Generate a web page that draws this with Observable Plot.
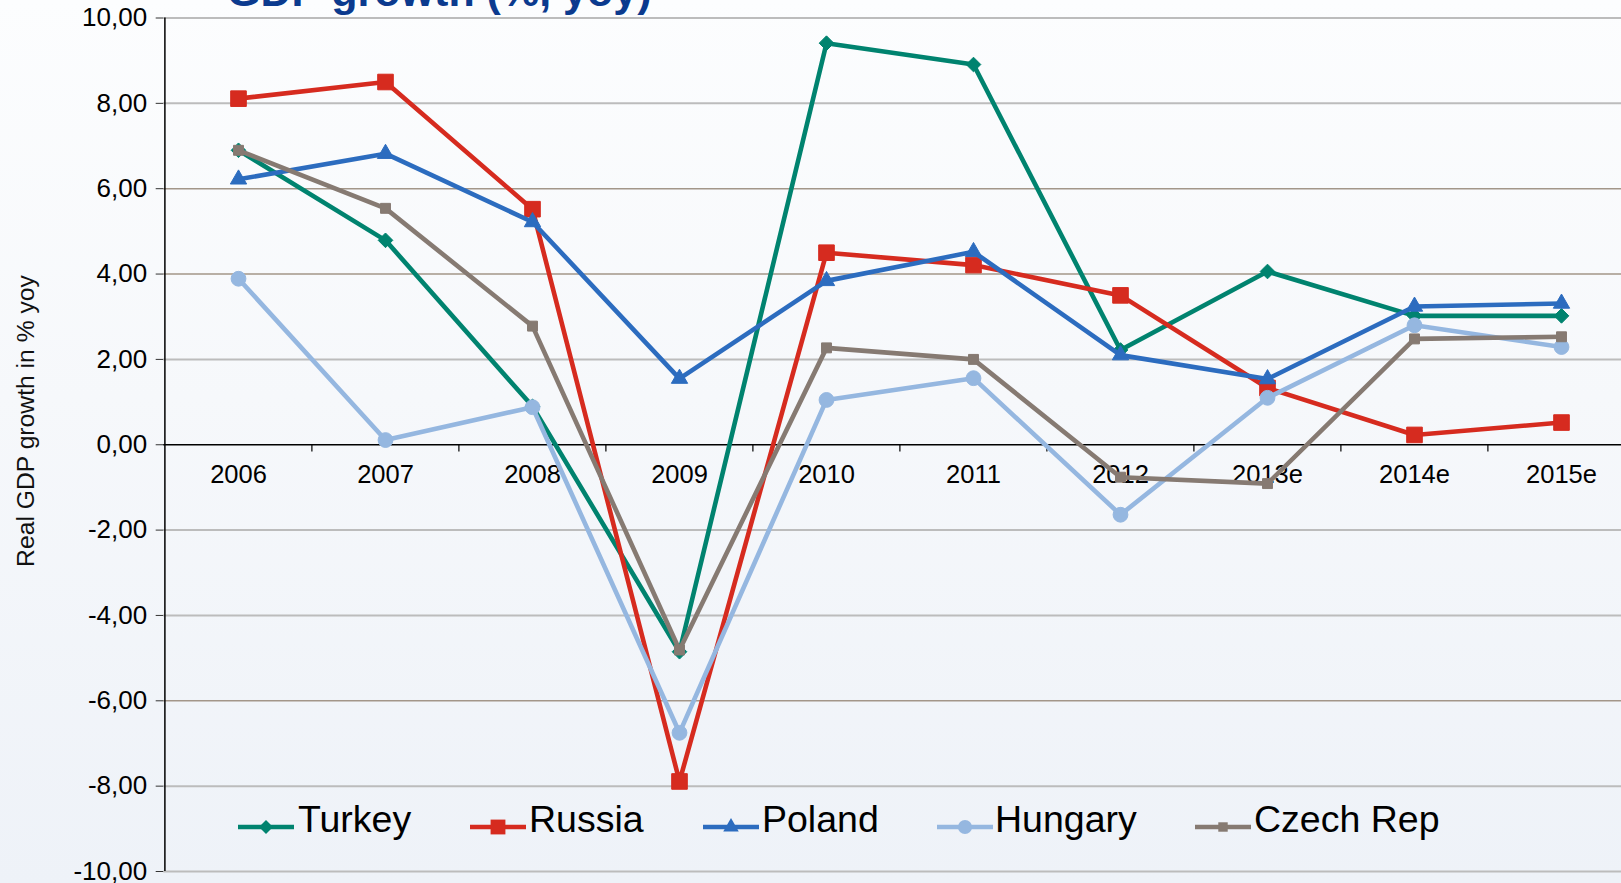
<!DOCTYPE html>
<html>
<head>
<meta charset="utf-8">
<script src="https://cdn.jsdelivr.net/npm/d3@7"></script>
<script src="https://cdn.jsdelivr.net/npm/@observablehq/plot@0.6"></script>
<style>
html,body{margin:0;padding:0;width:1621px;height:883px;overflow:hidden;}
body{background:linear-gradient(to bottom,#fcfdfe 0%,#f6f8fb 45%,#eef2f8 100%);font-family:"Liberation Sans",Arial,sans-serif;}
#wrap{position:relative;width:1621px;height:883px;}
#wrap svg.chart{position:absolute;left:0;top:0;}
#title{position:absolute;left:227px;top:-30px;font-size:43px;font-weight:bold;color:#0b3a8e;line-height:1;white-space:nowrap;}
#ylabel{position:absolute;left:26px;top:421px;transform:translate(-50%,-50%) rotate(-90deg);font-size:24.7px;line-height:1;white-space:nowrap;color:#111;}
#legend{position:absolute;left:0;top:800px;width:1621px;height:40px;font-size:37.5px;line-height:1;color:#000;}
.sw{position:absolute;top:8px;}
.lt{position:absolute;top:1px;white-space:nowrap;}
</style>
</head>
<body>
<div id="wrap">
  <div id="title">GDP growth (%, yoy)</div>
  <div id="ylabel">Real GDP growth in % yoy</div>
  <div id="legend"></div>
</div>
<script>
// ---- data ----
const years = ["2006","2007","2008","2009","2010","2011","2012","2013e","2014e","2015e"];
const turkey  = [6.90, 4.79, 0.90, -4.85, 9.41, 8.91, 2.22, 4.06, 3.02, 3.02];
const russia  = [8.11, 8.50, 5.52, -7.89, 4.50, 4.21, 3.50, 1.33, 0.23, 0.52];
const poland  = [6.22, 6.82, 5.22, 1.55, 3.84, 4.52, 2.10, 1.54, 3.24, 3.31];
const hungary = [3.89, 0.11, 0.88, -6.75, 1.05, 1.56, -1.64, 1.10, 2.80, 2.29];
const czech   = [6.90, 5.54, 2.78, -4.81, 2.27, 2.00, -0.76, -0.91, 2.48, 2.53];
const countries = ["Turkey","Russia","Poland","Hungary","Czech Rep"];
const yTicks = [-10,-8,-6,-4,-2,0,2,4,6,8,10];

// ---- styles ----
const seriesValues = [turkey, russia, poland, hungary, czech];
const colors  = ["#00836f","#d62b1f","#2c6cbf","#95b7e0","#867a72"];
const symbols = ["diamond2","square","triangle2","circle","square"];
const radii   = [6.6, 8.8, 7.8, 7.4, 5.6];
const grayGrid  = [10,8,2,-2,-4,-8,-10];
const brownGrid = [6,4,-6];
const legendSwatchX = [238, 470, 703, 937, 1195];
const legendTextX   = [298, 529, 762, 995, 1254];

const table = countries.map((c, k) => years.map((yr, i) => ({country: c, year: yr, value: seriesValues[k][i]})));

const x0 = 236.8, x1 = 1561.7;
const step = (x1 - x0) / (years.length - 1);
const fmt = d => (d < 0 ? "-" : "") + Math.abs(d).toFixed(2).replace(".", ",");

const seriesMarks = [];
table.forEach((rows, k) => {
  seriesMarks.push(Plot.line(rows, {x: "year", y: "value", stroke: colors[k], strokeWidth: 4.6, strokeLinejoin: "miter", strokeLinecap: "butt"}));
  seriesMarks.push(Plot.dot(rows, {x: "year", y: "value", fill: colors[k], stroke: colors[k], strokeWidth: 1, symbol: () => symbols[k], r: radii[k]}));
});

const chart = Plot.plot({
  width: 1621,
  height: 883,
  marginLeft: x0 - step / 2,
  marginRight: 0,
  marginTop: 17.5,
  marginBottom: 12,
  style: {background: "transparent", fontFamily: "'Liberation Sans', Arial, sans-serif", fontSize: "26px", color: "#000", overflow: "visible"},
  x: {type: "point", domain: years, range: [x0, x1], padding: 0, axis: null},
  y: {domain: [-10, 10]},
  symbol: {type: "identity"},
  marks: [
    Plot.ruleY(grayGrid, {stroke: "#bcbcbc", strokeWidth: 2}),
    Plot.ruleY(brownGrid, {stroke: "#a39689", strokeWidth: 1.6}),
    Plot.axisY({ticks: yTicks, tickSize: 7.5, tickPadding: 9, tickFormat: fmt, fontSize: 26, stroke: "#333", fill: "#000", label: null}),
    Plot.ruleX([years[0]], {x: d => d, dx: -step / 2, stroke: "#000", strokeWidth: 1.5}),
    Plot.ruleY([0], {stroke: "#000", strokeWidth: 1.5}),
    Plot.ruleX(years.slice(1), {x: d => d, dx: -step / 2, y1: 0, y2: -0.17, stroke: "#000", strokeWidth: 1.2}),
    Plot.text(years, {x: d => d, y: 0, dy: 30, fontSize: 25.5, fill: "#000"}),
    ...seriesMarks
  ]
});
chart.classList.add("chart");
const wrap = document.getElementById("wrap");
wrap.insertBefore(chart, wrap.firstChild);

// ---- legend ----
const legend = document.getElementById("legend");
const symbolPaths = {diamond2: d3.symbolDiamond2, square: d3.symbolSquare, triangle2: d3.symbolTriangle2, circle: d3.symbolCircle};
countries.forEach((c, k) => {
  const size = Math.PI * Math.pow(radii[k] * 0.95, 2);
  const path = d3.symbol(symbolPaths[symbols[k]], size)();
  const sw = document.createElement("div");
  sw.className = "sw";
  sw.style.left = legendSwatchX[k] + "px";
  sw.innerHTML = `<svg width="56" height="24" viewBox="0 0 56 24"><line x1="0" y1="12" x2="56" y2="12" stroke="${colors[k]}" stroke-width="4.6"/><path d="${path}" transform="translate(28,12)" fill="${colors[k]}"/></svg>`;
  const t = document.createElement("div");
  t.className = "lt";
  t.style.left = legendTextX[k] + "px";
  t.textContent = c;
  legend.appendChild(sw);
  legend.appendChild(t);
});
</script>
</body>
</html>
